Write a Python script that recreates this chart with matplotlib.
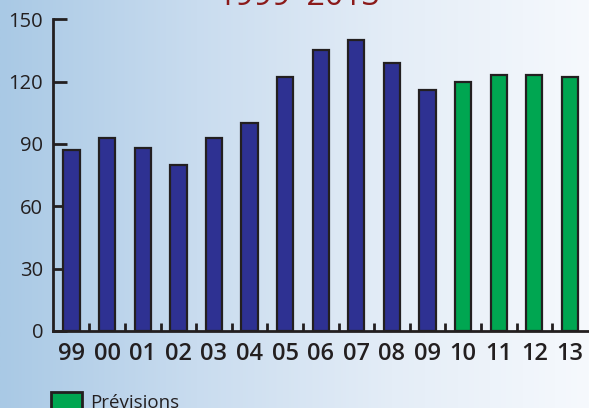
import numpy as np
import matplotlib.pyplot as plt
from matplotlib.colors import LinearSegmentedColormap
from matplotlib.patches import Rectangle

plt.rcParams['font.family'] = ['Open Sans', 'DejaVu Sans']

# data
years = ['99', '00', '01', '02', '03', '04', '05', '06', '07', '08', '09', '10', '11', '12', '13']
values = [87, 93, 88, 80, 93, 100, 122, 135, 140, 129, 116, 120, 123, 123, 122]
forecast = [False] * 11 + [True] * 4
yticks = [0, 30, 60, 90, 120, 150]

blue = '#2e3192'
green = '#00a651'
edge = '#231f20'

fig = plt.figure(figsize=(5.89, 4.08), dpi=100)

# fond dégradé bleu -> blanc
bg = fig.add_axes([0, 0, 1, 1], zorder=-10)
grad = np.linspace(0, 1, 256).reshape(1, -1)
cmap = LinearSegmentedColormap.from_list('bg', ['#a9c9e5', '#c9dcef', '#e4edf7', '#f6f9fd'])
bg.imshow(grad, aspect='auto', cmap=cmap, extent=[0, 1, 0, 1])
bg.axis('off')

ax = fig.add_axes([0.090, 0.189, 0.909, 0.764])
ax.set_facecolor('none')

x = np.arange(len(years))
colors = [green if f else blue for f in forecast]
ax.bar(x, values, width=0.46, color=colors, edgecolor=edge, linewidth=1.6, zorder=3)

ax.set_xlim(-0.52, len(years) - 0.48)
ax.set_ylim(0, 150)
ax.set_yticks(yticks)
ax.set_xticks(x)
ax.set_xticklabels(years)
ax.set_xticks(x[:-1] + 0.5, minor=True)

for s in ['top', 'right']:
    ax.spines[s].set_visible(False)
for s in ['left', 'bottom']:
    ax.spines[s].set_color(edge)
    ax.spines[s].set_linewidth(2)

ax.tick_params(axis='y', direction='in', length=10, width=2, color=edge,
               labelsize=14.5, labelcolor=edge, pad=7)
ax.tick_params(axis='x', which='major', length=0, labelsize=17, labelcolor=edge, pad=8)
ax.tick_params(axis='x', which='minor', direction='in', length=6, width=2, color=edge)
for lab in ax.get_xticklabels():
    lab.set_fontweight('semibold')

# titre (coupé en haut)
fig.text(0.506, 0.988, '1999\u20132013', color='#8b1a1a', fontsize=23,
         ha='center', va='baseline')

# légende
fig.patches.append(Rectangle((0.087, -0.02), 0.052, 0.058, transform=fig.transFigure,
                             facecolor=green, edgecolor=edge, linewidth=2))
fig.text(0.153, 0.0, 'Prévisions', fontsize=13.5, color=edge, ha='left', va='baseline')

fig.savefig('out.png', dpi=100)
